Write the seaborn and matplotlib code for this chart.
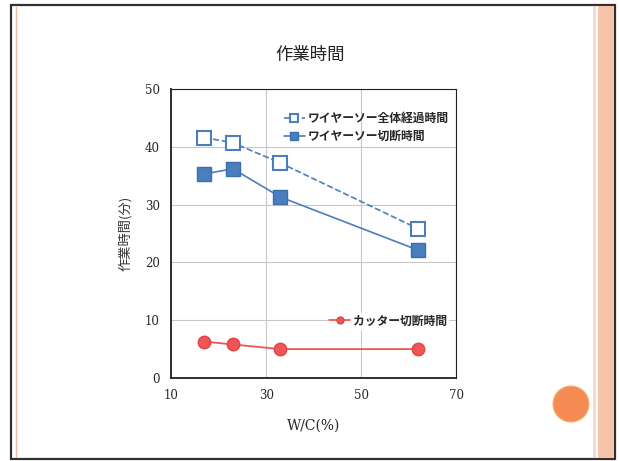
import matplotlib
matplotlib.use("Agg")
import matplotlib.pyplot as plt
from matplotlib.patches import Rectangle, Ellipse
from matplotlib.lines import Line2D
import seaborn as sns
import pandas as pd

# W/C ratio (%) and working times (minutes)
wc = [17, 23, 33, 62]
wire_total = [41.6, 40.7, 37.2, 25.8]
wire_cut = [35.3, 36.2, 31.3, 22.1]
cutter_cut = [6.3, 5.8, 5.0, 5.0]

labels = ["ワイヤーソー全体経過時間", "ワイヤーソー切断時間", "カッター切断時間"]
x_ticks = [10, 30, 50, 70]
y_ticks = [0, 10, 20, 30, 40, 50]

sns.set_theme(style="white")
plt.rcParams["font.family"] = ["Noto Sans CJK JP", "DejaVu Sans"]

W, H = 619, 461
fig = plt.figure(figsize=(W / 100, H / 100), dpi=100)
fig.patch.set_facecolor("white")

def fx(px):
    return px / W

def fy(py):
    return 1 - py / H

# slide frame
fig.add_artist(Rectangle((fx(11), fy(459)), fx(604), (459 - 5) / H, transform=fig.transFigure,
                         fill=False, edgecolor="#303030", linewidth=1.6))
fig.add_artist(Line2D([fx(15.5), fx(15.5)], [fy(7), fy(457)], transform=fig.transFigure,
                      color="#f0b8a8", linewidth=1.0))
fig.add_artist(Rectangle((fx(593), fy(458)), fx(3), (458 - 6) / H, transform=fig.transFigure,
                         facecolor="#f8d8cc", edgecolor="none"))
fig.add_artist(Rectangle((fx(598), fy(458)), fx(16), (458 - 6) / H, transform=fig.transFigure,
                         facecolor="#f6c2a8", edgecolor="none"))
fig.add_artist(Ellipse((fx(571), fy(404)), 36 / W, 36 / H, transform=fig.transFigure,
                       facecolor="#f58a55", edgecolor="#f7b070", linewidth=0.8))

ax = fig.add_axes([fx(171), fy(378), fx(456.5) - fx(171), (378 - 89) / H])

blue = "#4a7ebf"
red = "#ef5555"

df = pd.DataFrame({"wc": wc, "total": wire_total, "cut": wire_cut, "cutter": cutter_cut})

sns.lineplot(data=df, x="wc", y="total", ax=ax, color=blue, linestyle="--", linewidth=1.2,
             marker="s", markersize=10, markerfacecolor="white", markeredgecolor=blue,
             markeredgewidth=1.5, label=labels[0])
sns.lineplot(data=df, x="wc", y="cut", ax=ax, color=blue, linewidth=1.2,
             marker="s", markersize=9.5, markerfacecolor=blue, markeredgecolor="#3a6eb0",
             markeredgewidth=1.0, label=labels[1])
sns.lineplot(data=df, x="wc", y="cutter", ax=ax, color=red, linewidth=1.3,
             marker="o", markersize=9, markerfacecolor=red, markeredgecolor="#e04545",
             markeredgewidth=1.0, label=labels[2])

ax.set_xlim(10, 70)
ax.set_ylim(0, 50)
ax.set_xticks(x_ticks)
ax.set_yticks(y_ticks)
ax.set_xticklabels([str(v) for v in x_ticks], fontfamily="DejaVu Serif", fontsize=8.5)
ax.set_yticklabels([str(v) for v in y_ticks], fontfamily="DejaVu Serif", fontsize=8.5)
ax.tick_params(axis="both", length=0, pad=8)
ax.grid(True, color="#c8c8c8", linewidth=0.8)
for s in ax.spines.values():
    s.set_color("#202020")
    s.set_linewidth(1.3)
ax.spines["top"].set_linewidth(0.8)
ax.spines["right"].set_linewidth(0.8)

ax.set_xlabel("W/C(%)", fontsize=10, labelpad=12, family=["DejaVu Serif"])
ax.set_ylabel("作業時間(分)", fontsize=9.5, labelpad=9, color="#333333")
fig.text(fx(310), fy(55), "作業時間", ha="center", va="center", fontsize=12.5, color="#222222")

handles, labs = ax.get_legend_handles_labels()
leg1 = ax.legend(handles[:2], labs[:2], loc="upper right", bbox_to_anchor=(1.0, 0.95),
                 frameon=False, prop={"weight": "bold", "size": 8.5}, handlelength=1.8,
                 handletextpad=0.2, borderpad=0.2, labelspacing=0.45, markerscale=0.55)
ax.add_artist(leg1)
leg2 = ax.legend(handles[2:], labs[2:], loc="center right", bbox_to_anchor=(0.99, 0.197),
                 frameon=True, facecolor="white", edgecolor="white", framealpha=1,
                 prop={"weight": "bold", "size": 8.5}, handlelength=1.8,
                 handletextpad=0.2, borderpad=0.1, markerscale=0.55, fancybox=False)

fig.savefig("out.png", dpi=100)
